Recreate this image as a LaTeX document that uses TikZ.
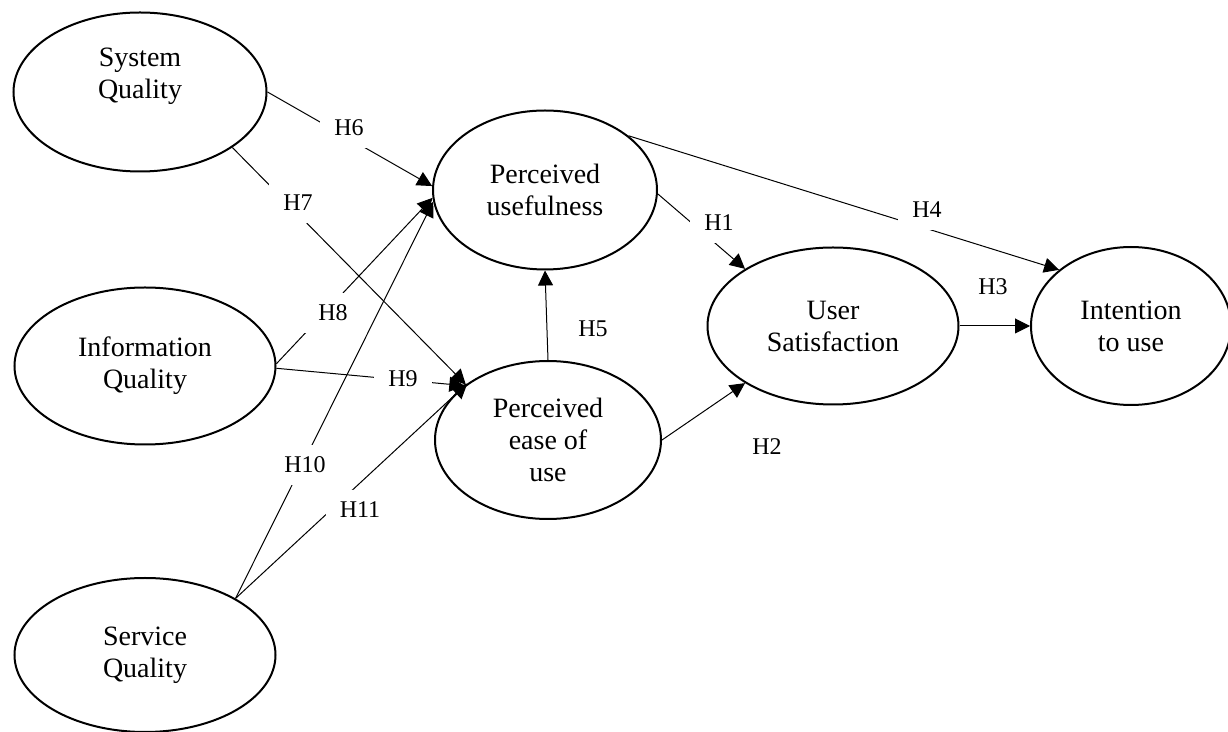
\documentclass[tikz,border=0pt]{standalone}
\usepackage{fontspec}
\setmainfont{Liberation Serif}
\usetikzlibrary{shapes.geometric,arrows.meta}
\tikzset{
	construct/.style={draw, ellipse, line width=1pt, inner sep=0pt, align=center, font=\fontsize{14}{16}\selectfont},
	hyp/.style={fill=white, inner xsep=7pt, inner ysep=6pt, font=\fontsize{12}{14}\selectfont},
	link/.style={-{Triangle[length=7.5pt,width=7.5pt]}, line width=0.5pt}
}
\begin{document}
\begin{tikzpicture}[x=0.5pt, y=-0.5pt]
		\useasboundingbox (0,0) rectangle (1228,732);
		\node[construct, minimum width=126.5pt, minimum height=79.5pt] (sysq) at (140,92) {System\\Quality\\[3pt]};
		\node[construct, minimum width=130.5pt, minimum height=78.5pt] (infq) at (145,366) {Information\\Quality};
		\node[construct, minimum width=130.5pt, minimum height=77pt] (serq) at (145,655) {Service\\Quality};
		\node[construct, minimum width=112pt, minimum height=79.5pt] (pu) at (545,190) {Perceived\\usefulness};
		\node[construct, minimum width=113pt, minimum height=79pt] (peou) at (548,440) {Perceived\\ease of\\use};
		\node[construct, minimum width=125.5pt, minimum height=78.5pt] (us) at (833,326) {User\\Satisfaction};
		\node[construct, minimum width=100pt, minimum height=79pt] (iu) at (1131,326) {Intention\\to use};
		\foreach \a/\b in {sysq.0/pu.178, sysq.-31/peou.146, infq.1/pu.184, infq.-1/peou.147, serq.32/pu.186, serq.32/peou.145, peou.90/pu.270, pu.-2/us.147, peou.0/us.213, us.0/iu.180, pu.33/iu.142}
			\draw[link] (\a) -- (\b);
		\foreach \t/\x/\y in {H1/719/223, H2/767/447, H3/993/287, H4/927/210, H5/593/329, H6/349/128, H7/298/203, H8/333/313, H9/403/379, H10/305/465, H11/360/510}
			\node[hyp] (\t) at (\x,\y) {\t};
\end{tikzpicture}
\end{document}
